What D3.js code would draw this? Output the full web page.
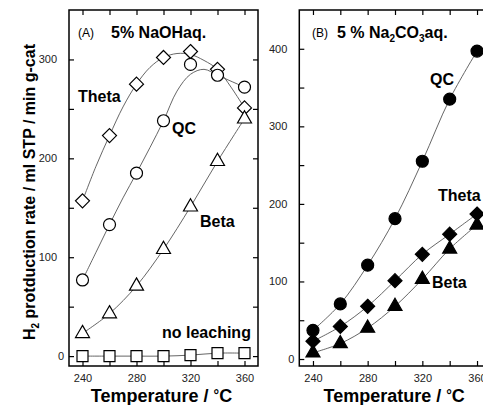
<!DOCTYPE html>
<html>
<head>
<meta charset="utf-8">
<script src="https://cdn.jsdelivr.net/npm/d3@7"></script>
<style>
  body { margin: 0; background: #fff; }
  text { font-family: "Liberation Sans", Arial, sans-serif; }
</style>
</head>
<body>
<div id="chart"></div>
<script>
// measured temperatures
const temps = [240, 260, 280, 300, 320, 340, 360]

// (A) 5% NaOH aq.
const thetaA = [157, 223, 275, 302, 308, 290, 251]
const qcA = [77, 133, 185, 238, 295, 284, 272]
const betaA = [23, 43, 71, 108, 151, 197, 240]
const noLeachA = [0, 0, 0, 0, 1, 3, 3]
// fitted curves drawn in (A)
const fitTempsA = [240, 250, 260, 270, 280, 290, 300, 310, 320, 330, 340, 350, 360]
const thetaFitA = [157, 192, 223, 252, 275, 292, 302, 306, 305, 299, 290, 272, 251]
const qcFitA = [77, 105, 133, 160, 185, 211, 238, 268, 285, 290, 284, 278, 272]

// (B) 5% Na2CO3 aq.
const qcB = [37, 71, 121, 181, 255, 335, 397]
const thetaB = [23, 42, 68, 101, 135, 161, 187]
const betaB = [8, 20, 40, 68, 103, 142, 173]

const xTicks = [240, 260, 280, 300, 320, 340, 360]
const yTicksA = [0, 50, 100, 150, 200, 250, 300]
const yTicksB = [0, 50, 100, 150, 200, 250, 300, 350, 400]

const W = 483, H = 405
const svg = d3.select("#chart").append("svg")
  .attr("width", W).attr("height", H)

const zip = (xs, ys) => xs.map((t, i) => ({t: t, v: ys[i]}))

// marker shapes
const shapes = {
  circle: "M6,0A6,6 0 1,1 -6,0A6,6 0 1,1 6,0Z",
  diamond: "M0,-7L7,0L0,7L-7,0Z",
  square: "M-5.5,-5.5H5.5V5.5H-5.5Z",
  triangle: "M0,-8L7,4.2L-7,4.2Z"
}

function panel(opt) {
  const x = d3.scaleLinear().domain([230, 370]).range(opt.xr)
  const y = d3.scaleLinear().domain(opt.yd).range([366, 10])
  const g = svg.append("g")

  // ticks on all four sides, pointing inwards
  g.append("g").attr("transform", "translate(0,366)")
    .call(d3.axisBottom(x).tickValues(xTicks).tickSize(-5).tickPadding(8)
      .tickFormat(d => d % 40 === 0 ? d : ""))
  g.append("g").attr("transform", "translate(0,10)")
    .call(d3.axisTop(x).tickValues(xTicks).tickSize(-5).tickFormat(""))
  const left = g.append("g").attr("transform", "translate(" + opt.xr[0] + ",0)")
    .call(d3.axisLeft(y).tickValues(opt.yTicks).tickSize(-5).tickPadding(12)
      .tickFormat(d => d % 100 === 0 ? d : ""))
  g.append("g").attr("transform", "translate(" + opt.xr[1] + ",0)")
    .call(d3.axisRight(y).tickValues(opt.yTicks).tickSize(-5).tickFormat(""))

  g.selectAll(".domain").remove()
  g.selectAll(".tick line").attr("stroke", "#000").attr("stroke-width", 1.2)
  g.selectAll(".tick text").attr("fill", "#222").style("font-size", "11px")
  left.selectAll(".tick text").filter(d => d === 0).attr("x", -5)

  // frame
  g.append("rect")
    .attr("x", opt.xr[0]).attr("y", 10)
    .attr("width", opt.xr[1] - opt.xr[0]).attr("height", 356)
    .attr("fill", "none").attr("stroke", "#000").attr("stroke-width", 1.5)

  const line = d3.line()
    .x(d => x(d.t)).y(d => y(d.v))
    .curve(d3.curveCatmullRom.alpha(0.5))

  opt.series.forEach(s => {
    g.append("path")
      .datum(zip(s.lineT || temps, s.line || s.values))
      .attr("fill", "none").attr("stroke", "#555").attr("stroke-width", 0.9)
      .attr("d", line)
  })
  opt.series.forEach(s => {
    g.selectAll(null)
      .data(zip(temps, s.values))
      .enter().append("path")
        .attr("transform", d => "translate(" + x(d.t) + "," + y(d.v) + ")")
        .attr("d", shapes[s.shape])
        .attr("fill", opt.filled ? "#000" : "#fff")
        .attr("stroke", "#000").attr("stroke-width", 1.2)
  })

  // x axis title
  const xt = g.append("text")
    .attr("x", (opt.xr[0] + Math.min(opt.xr[1], 483)) / 2 + opt.titleShift)
    .attr("y", 402)
    .attr("text-anchor", "middle")
    .style("font-size", "18px").style("font-weight", "bold")
  xt.append("tspan").text("Temperature / ")
  xt.append("tspan").text("°").attr("dy", -2).style("font-size", "14px")
  xt.append("tspan").text("C").attr("dy", 2)

  opt.labels.forEach(l => {
    g.append("text").attr("x", l.x).attr("y", l.y)
      .style("font-size", "16px").style("font-weight", "bold")
      .text(l.text)
  })
  return g
}

const gA = panel({
  xr: [69, 258], yd: [-10, 350], yTicks: yTicksA, filled: false, titleShift: -2,
  series: [
    {values: thetaA, shape: "diamond", lineT: fitTempsA, line: thetaFitA},
    {values: qcA, shape: "circle", lineT: fitTempsA, line: qcFitA},
    {values: betaA, shape: "triangle"},
    {values: noLeachA, shape: "square"}
  ],
  labels: [
    {x: 78, y: 102, text: "Theta"},
    {x: 172, y: 134, text: "QC"},
    {x: 200, y: 227, text: "Beta"},
    {x: 162, y: 338, text: "no leaching"}
  ]
})
gA.append("text").attr("x", 78).attr("y", 37).style("font-size", "12px").text("(A)")
gA.append("text").attr("x", 111).attr("y", 38)
  .style("font-size", "16px").style("font-weight", "bold").text("5% NaOHaq.")

const gB = panel({
  xr: [299.3, 490.7], yd: [-9, 450], yTicks: yTicksB, filled: true, titleShift: 3,
  series: [
    {values: qcB, shape: "circle"},
    {values: thetaB, shape: "diamond"},
    {values: betaB, shape: "triangle"}
  ],
  labels: [
    {x: 430, y: 85, text: "QC"},
    {x: 438, y: 201, text: "Theta"},
    {x: 432, y: 288, text: "Beta"}
  ]
})
gB.append("text").attr("x", 312).attr("y", 37).style("font-size", "12px").text("(B)")
const tb = gB.append("text").attr("x", 337).attr("y", 38)
  .style("font-size", "16px").style("font-weight", "bold")
tb.append("tspan").text("5 % Na")
tb.append("tspan").text("2").attr("dy", 4).style("font-size", "10px")
tb.append("tspan").text("CO").attr("dy", -4)
tb.append("tspan").text("3").attr("dy", 4).style("font-size", "10px")
tb.append("tspan").text("aq.").attr("dy", -4)

// shared y axis title
const yt = svg.append("text")
  .attr("transform", "translate(35,192) rotate(-90)")
  .attr("text-anchor", "middle")
  .style("font-size", "16px").style("font-weight", "bold")
yt.append("tspan").text("H")
yt.append("tspan").text("2").attr("dy", 4).style("font-size", "10px")
yt.append("tspan").text(" protduction rate / ml STP /  min g-cat").attr("dy", -4)
</script>
</body>
</html>
